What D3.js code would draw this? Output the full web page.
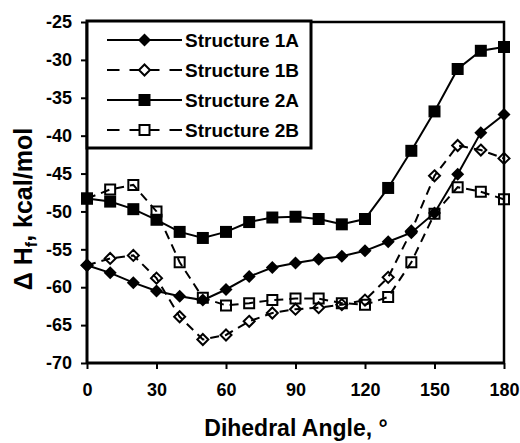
<!DOCTYPE html>
<html>
<head>
<meta charset="utf-8">
<script src="https://cdn.jsdelivr.net/npm/d3@7"></script>
<style>
  body { margin: 0; background: #fff; }
  text { font-family: "Liberation Sans", Arial, Helvetica, sans-serif; font-weight: bold; fill: #000; }
</style>
</head>
<body>
<div id="chart"></div>
<script>
// dihedral angle (degrees)
const angles = [0, 10, 20, 30, 40, 50, 60, 70, 80, 90, 100, 110, 120, 130, 140, 150, 160, 170, 180];

// heat of formation, kcal/mol
const s1A = [-57.1, -58.1, -59.4, -60.5, -61.2, -61.7, -60.3, -58.6, -57.4, -56.8, -56.3, -55.9, -55.2, -54.0, -52.8, -50.2, -45.1, -39.6, -37.2];
const s1B = [-57.1, -56.2, -55.8, -58.8, -63.9, -66.9, -66.3, -64.5, -63.4, -62.9, -62.7, -62.3, -61.7, -58.7, -52.6, -45.3, -41.3, -41.9, -43.0];
const s2A = [-48.3, -48.7, -49.7, -51.1, -52.7, -53.5, -52.7, -51.4, -50.8, -50.7, -51.0, -51.7, -51.0, -46.9, -42.0, -36.8, -31.2, -28.8, -28.3];
const s2B = [-48.3, -47.1, -46.5, -50.0, -56.7, -61.4, -62.4, -62.1, -61.7, -61.5, -61.5, -62.1, -62.3, -61.3, -56.7, -50.3, -46.8, -47.4, -48.4];

const seriesNames = ['Structure 1A', 'Structure 1B', 'Structure 2A', 'Structure 2B'];
const xTicks = [0, 30, 60, 90, 120, 150, 180];
const yTicks = [-70, -65, -60, -55, -50, -45, -40, -35, -30, -25];

const series = [
  { name: seriesNames[0], values: s1A, dashed: false, shape: 'diamond', filled: true },
  { name: seriesNames[1], values: s1B, dashed: true,  shape: 'diamond', filled: false },
  { name: seriesNames[2], values: s2A, dashed: false, shape: 'square',  filled: true },
  { name: seriesNames[3], values: s2B, dashed: true,  shape: 'square',  filled: false }
];

const width = 520, height = 443;
const plot = { left: 87, right: 504, top: 22, bottom: 363 };

const svg = d3.select('#chart').append('svg')
  .attr('width', width)
  .attr('height', height);

const x = d3.scaleLinear().domain([0, 180]).range([plot.left, plot.right]);
const y = d3.scaleLinear().domain([-70, -25]).range([plot.bottom, plot.top]);

// marker path builder
function markerPath(shape, filled) {
  if (shape === 'diamond') {
    const r = filled ? 6.5 : 5.5;
    return `M0,${-r}L${r},0L0,${r}L${-r},0Z`;
  }
  const h = filled ? 6 : 5;
  return `M${-h},${-h}H${h}V${h}H${-h}Z`;
}

// plot frame (top + right)
svg.append('path')
  .attr('d', `M${plot.left},${plot.top}H${plot.right}V${plot.bottom}`)
  .attr('fill', 'none')
  .attr('stroke', '#000')
  .attr('stroke-width', 2.5);

// axes (plain hyphen for negatives, like the original)
const xAxis = d3.axisBottom(x).tickValues(xTicks).tickSize(6).tickPadding(14).tickFormat(d => String(d));
const yAxis = d3.axisLeft(y).tickValues(yTicks).tickSize(6).tickPadding(9).tickFormat(d => String(d));

const xAxisG = svg.append('g')
  .attr('transform', `translate(0,${plot.bottom})`)
  .call(xAxis);
const yAxisG = svg.append('g')
  .attr('transform', `translate(${plot.left},0)`)
  .call(yAxis);

[xAxisG, yAxisG].forEach(g => {
  g.select('.domain').attr('stroke', '#000').attr('stroke-width', 3);
  g.selectAll('.tick line').attr('stroke', '#000').attr('stroke-width', 2);
  g.selectAll('.tick text')
    .style('font-family', '"Liberation Sans", Arial, sans-serif')
    .style('font-weight', 'bold')
    .style('font-size', '18px')
    .attr('fill', '#000');
});
xAxisG.select('.domain').attr('d', `M${plot.left},0H${plot.right}`);
yAxisG.select('.domain').attr('d', `M0,${plot.bottom}V${plot.top}`);

// lines + markers
const line = d3.line()
  .x((d, i) => x(angles[i]))
  .y(d => y(d));

series.forEach(s => {
  const g = svg.append('g').attr('class', 'series');
  g.append('path')
    .datum(s.values)
    .attr('d', line)
    .attr('fill', 'none')
    .attr('stroke', '#000')
    .attr('stroke-width', 2)
    .attr('stroke-dasharray', s.dashed ? '9,6' : null);

  g.selectAll('.marker')
    .data(s.values)
    .join('path')
    .attr('class', 'marker')
    .attr('transform', (d, i) => `translate(${x(angles[i])},${y(d)})`)
    .attr('d', markerPath(s.shape, s.filled))
    .attr('fill', s.filled ? '#000' : 'none')
    .attr('stroke', '#000')
    .attr('stroke-width', s.filled ? 0 : 2);
});

// legend
const legend = svg.append('g');
legend.append('rect')
  .attr('x', plot.left)
  .attr('y', plot.top - 1)
  .attr('width', 311 - plot.left)
  .attr('height', 148 - plot.top + 1)
  .attr('fill', '#fff')
  .attr('stroke', '#000')
  .attr('stroke-width', 3);

series.forEach((s, i) => {
  const cy = 40 + i * 30;
  const cx = 144.5;
  const g = legend.append('g');
  if (s.dashed) {
    // draw from marker outward so both halves look alike
    g.append('line').attr('x1', cx).attr('x2', 107).attr('y1', cy).attr('y2', cy)
      .attr('stroke', '#000').attr('stroke-width', 2).attr('stroke-dasharray', '15,10');
    g.append('line').attr('x1', cx).attr('x2', 182).attr('y1', cy).attr('y2', cy)
      .attr('stroke', '#000').attr('stroke-width', 2).attr('stroke-dasharray', '15,10');
  } else {
    g.append('line').attr('x1', 107).attr('x2', 182).attr('y1', cy).attr('y2', cy)
      .attr('stroke', '#000').attr('stroke-width', 2);
  }
  g.append('path')
    .attr('transform', `translate(${cx},${cy})`)
    .attr('d', markerPath(s.shape, s.filled))
    .attr('fill', s.filled ? '#000' : '#fff')
    .attr('stroke', '#000')
    .attr('stroke-width', s.filled ? 0 : 2);
  g.append('text')
    .attr('x', 185)
    .attr('y', cy)
    .attr('dy', '0.36em')
    .style('font-size', '19px')
    .text(s.name);
});

// axis titles
svg.append('text')
  .attr('x', 296)
  .attr('y', 436)
  .attr('text-anchor', 'middle')
  .style('font-size', '23px')
  .text('Dihedral Angle, °');

const yTitle = svg.append('text')
  .attr('transform', 'translate(32,209) rotate(-90)')
  .attr('text-anchor', 'middle')
  .style('font-size', '25px');
yTitle.append('tspan').text('\u0394 H');
yTitle.append('tspan').attr('dy', 5).style('font-size', '16px').text('f');
yTitle.append('tspan').attr('dy', -5).text(', kcal/mol');
</script>
</body>
</html>
